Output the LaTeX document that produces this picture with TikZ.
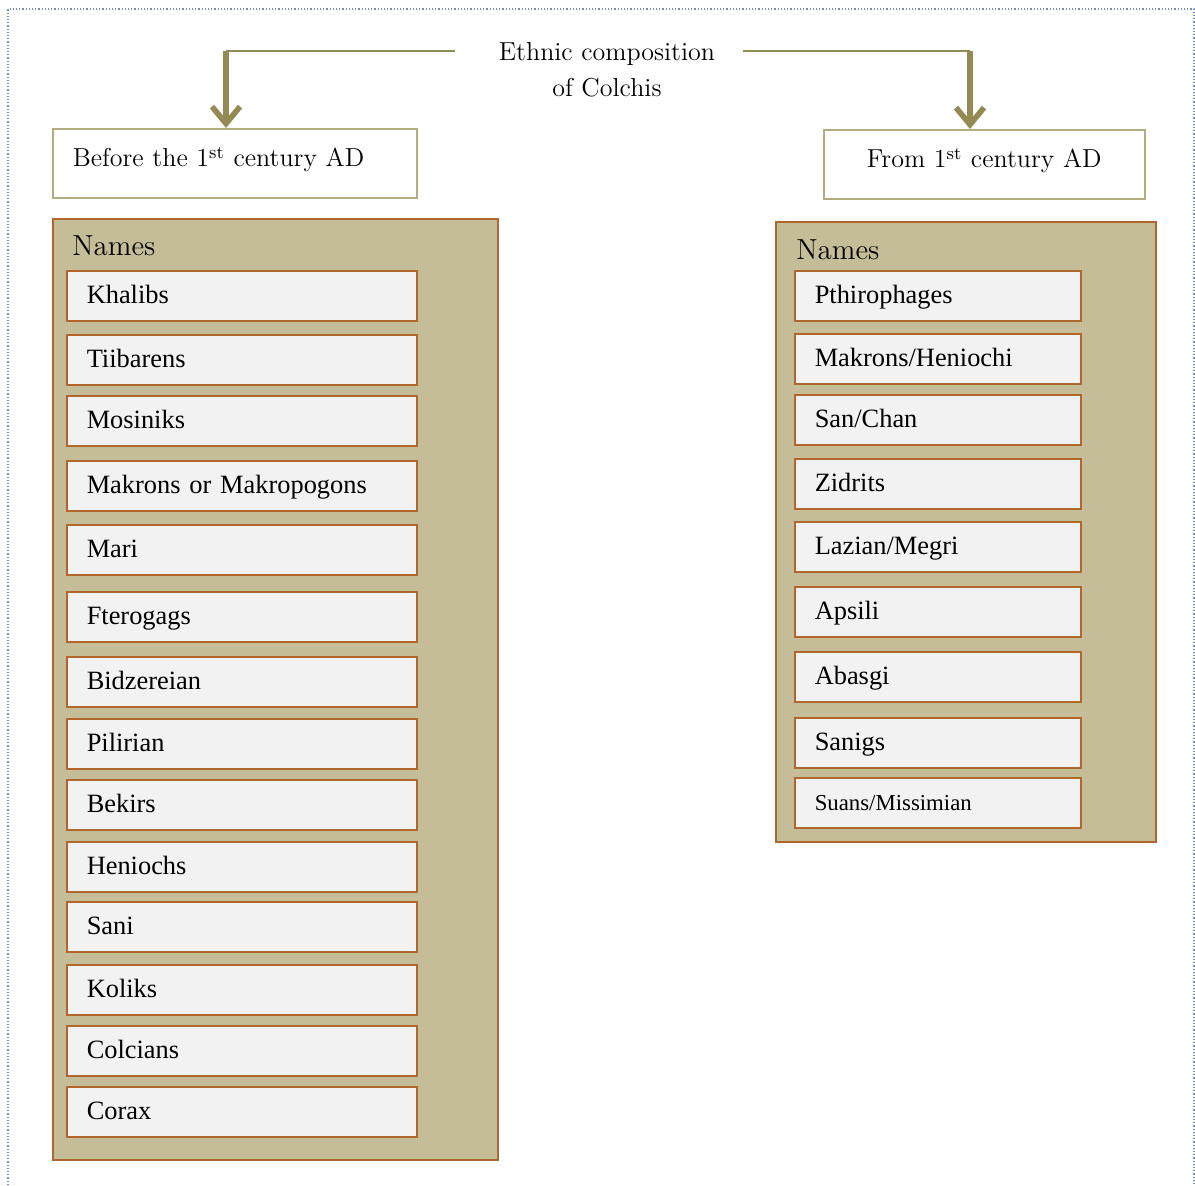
\documentclass[tikz,border=0pt]{standalone}
\usepackage{fontspec}
\usetikzlibrary{arrows.meta, positioning}
\newfontfamily\timesfont{Liberation Serif}
\definecolor{olivelink}{HTML}{948A54}
\definecolor{tanfill}{HTML}{C4BD97}
\definecolor{rustline}{HTML}{B0662C}
\definecolor{headline}{HTML}{B3AC80}
\definecolor{itemfill}{HTML}{F2F2F2}
\definecolor{frameblue}{HTML}{6F8DBF}

\begin{document}
\begin{tikzpicture}[x=0.5pt, y=-0.5pt,
  panel/.style={draw=rustline, line width=0.75pt, fill=tanfill, anchor=north west, inner sep=0pt},
  namebox/.style={draw=rustline, line width=0.75pt, fill=itemfill, anchor=west,
    minimum height=25pt, text width=#1, inner xsep=10pt, inner ysep=0pt, align=left,
    text height=10pt, text depth=2.5pt,
    font=\timesfont\fontsize{13.2}{15}\selectfont},
  headbox/.style={draw=headline, line width=0.75pt, fill=white, anchor=north west,
    inner xsep=10pt, inner ysep=0pt, text height=19pt, text depth=15.5pt,
    font=\fontsize{13}{16}\selectfont},
  hline/.style={olivelink, line width=1pt},
  varrow/.style={olivelink, line width=2.8pt,
    -{Straight Barb[length=8.5pt, width=14pt]}},
  namelabel/.style={anchor=west, inner sep=0pt, font=\fontsize{14.5}{17}\selectfont}
]
  \useasboundingbox (0,0) rectangle (1195,1185);
  \draw[frameblue, densely dotted, line width=0.6pt] (8,1185) |- (1194,9) -- (1194,1185);

  % title and the two periods
  \node[align=center, font=\fontsize{13}{18}\selectfont] (title) at (607,70)
    {Ethnic composition\\of Colchis};
  \node[headbox, text width=162pt, align=left] (bhead) at (52,128)
    {Before the 1\textsuperscript{st} century AD};
  \node[headbox, text width=140.5pt, align=center] (fhead) at (823,129)
    {From 1\textsuperscript{st} century AD};

  \coordinate (tl) at (455,51);
  \coordinate (tr) at (743,51);
  \coordinate (lbend) at (226,51);
  \coordinate (rbend) at (970,51);
  \draw[hline] (tl) -- (lbend);
  \draw[varrow] (lbend) -- (lbend |- bhead.north);
  \draw[hline] (tr) -- (rbend);
  \draw[varrow] (rbend) -- (rbend |- fhead.north);

  % left panel
  \node[panel, minimum width=222.5pt, minimum height=470.5pt] (lpanel) at (52,218) {};
  \node[namelabel] (lnames) at (72,246) {Names};
  \foreach \y/\nm [count=\i] in {296/Khalibs, 360/Tiibarens, 421/Mosiniks,
      486/Makrons or Makropogons, 550/Mari, 617/Fterogags, 682/Bidzereian,
      744/Pilirian, 805/Bekirs, 867/Heniochs, 927/Sani, 990/Koliks,
      1051/Colcians, 1112/Corax}
    \node[namebox=155pt] (l\i) at (66,\y) {\nm};

  % right panel
  \node[panel, minimum width=190pt, minimum height=310pt] (rpanel) at (775,221) {};
  \node[namelabel] (rnames) at (796,250) {Names};
  \foreach \y/\nm [count=\i] in {296/Pthirophages, 359/{Makrons/Heniochi},
      420/{San/Chan}, 484/Zidrits, 547/{Lazian/Megri}, 612/Apsili, 677/Abasgi,
      743/Sanigs, 803/{\fontsize{11.4}{13}\selectfont Suans/Missimian}}
    \node[namebox=123pt] (r\i) at (794,\y) {\nm};
\end{tikzpicture}
\end{document}
